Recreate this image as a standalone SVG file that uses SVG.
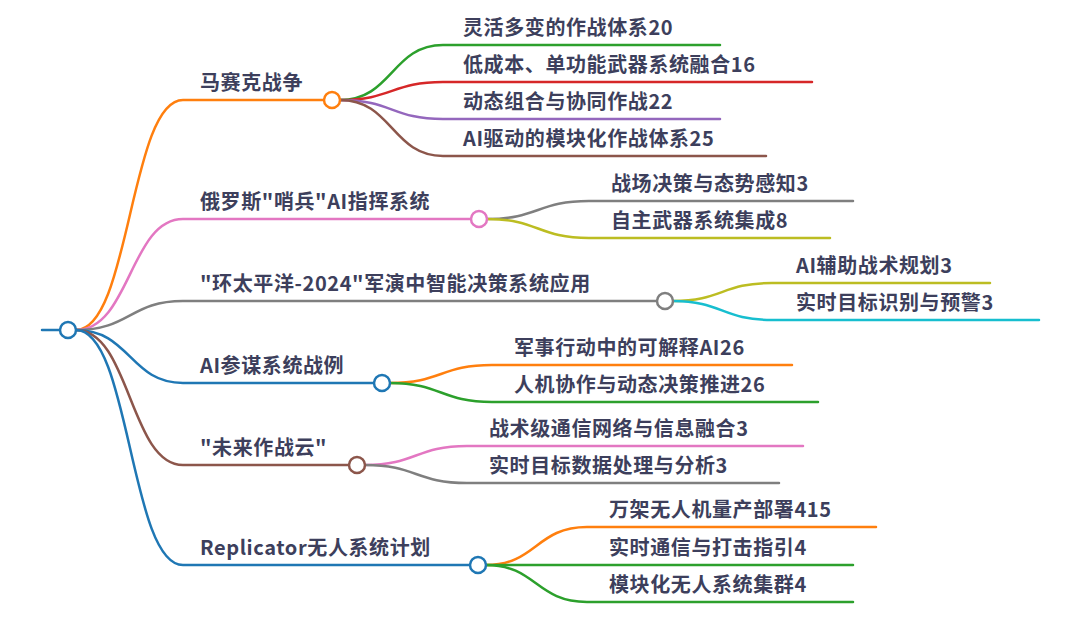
<svg xmlns="http://www.w3.org/2000/svg" width="1080" height="618" viewBox="0 0 1080 618">
<style>
text{font-family:"Noto Sans CJK SC","Noto Sans",sans-serif;font-weight:bold;font-size:20px;fill:#3d3f5c;letter-spacing:0.6px}
path,line{fill:none;stroke-width:2.5;stroke-linecap:round}
circle{fill:#fff;stroke-width:2.5}
.o{stroke:#ff7f0e}.g{stroke:#2ca02c}.r{stroke:#d62728}.p{stroke:#9467bd}.b{stroke:#8c564b}.k{stroke:#e377c2}.y{stroke:#7f7f7f}.v{stroke:#bcbd22}.c{stroke:#17becf}.u{stroke:#1f77b4}
</style>
<rect width="1080" height="618" fill="#fff"/>
<g id="connectors">
<line class="u" x1="42" y1="330" x2="60" y2="330"/>
<path class="o" d="M76,330 C130,330 130,100 183,100 H324"/>
<path class="k" d="M76,330 C130,330 130,219 183,219 H471"/>
<path class="y" d="M76,330 C130,330 130,301 183,301 H657"/>
<path class="u" d="M76,330 C130,330 130,383 183,383 H374"/>
<path class="b" d="M76,330 C130,330 130,465 183,465 H349"/>
<path class="u" d="M76,330 C130,330 130,565 183,565 H470"/>
<path class="g" d="M340,100 C392,100 392,45 443,45 H720"/>
<path class="r" d="M340,100 C392,100 392,82 443,82 H812"/>
<path class="p" d="M340,100 C392,100 392,119 443,119 H720"/>
<path class="b" d="M340,100 C392,100 392,156 443,156 H766"/>
<path class="y" d="M487,219 C538,219 538,201 589,201 H853"/>
<path class="v" d="M487,219 C538,219 538,238 589,238 H830"/>
<path class="v" d="M673,301 C722,301 722,283 772,283 H990"/>
<path class="c" d="M673,301 C722,301 722,320 772,320 H1039"/>
<path class="o" d="M390,383 C441,383 441,365 492,365 H792"/>
<path class="g" d="M390,383 C441,383 441,402 492,402 H818"/>
<path class="k" d="M365,465 C416,465 416,446 467,446 H803"/>
<path class="y" d="M365,465 C416,465 416,483 467,483 H779"/>
<path class="o" d="M486,565 C536,565 536,527 587,527 H876"/>
<path class="g" d="M486,565 C536,565 536,565 587,565 H853"/>
<path class="g" d="M486,565 C536,565 536,602 587,602 H853"/>
</g>
<g id="root"><circle class="u" cx="68" cy="330" r="8"/></g>
<g id="n1"><text x="200" y="90">马赛克战争</text><circle class="o" cx="332" cy="100" r="8"/></g>
<g id="n2"><text x="200" y="209">俄罗斯"哨兵"AI指挥系统</text><circle class="k" cx="479" cy="219" r="8"/></g>
<g id="n3"><text x="200" y="291">"环太平洋-2024"军演中智能决策系统应用</text><circle class="y" cx="665" cy="301" r="8"/></g>
<g id="n4"><text x="200" y="373">AI参谋系统战例</text><circle class="u" cx="382" cy="383" r="8"/></g>
<g id="n5"><text x="200" y="455">"未来作战云"</text><circle class="b" cx="357" cy="465" r="8"/></g>
<g id="n6"><text x="200" y="555">Replicator无人系统计划</text><circle class="u" cx="478" cy="565" r="8"/></g>
<g id="n1a"><text x="463" y="35">灵活多变的作战体系20</text></g>
<g id="n1b"><text x="463" y="72">低成本、单功能武器系统融合16</text></g>
<g id="n1c"><text x="463" y="109">动态组合与协同作战22</text></g>
<g id="n1d"><text x="463" y="146">AI驱动的模块化作战体系25</text></g>
<g id="n2a"><text x="611" y="191">战场决策与态势感知3</text></g>
<g id="n2b"><text x="611" y="228">自主武器系统集成8</text></g>
<g id="n3a"><text x="796" y="273">AI辅助战术规划3</text></g>
<g id="n3b"><text x="796" y="310">实时目标识别与预警3</text></g>
<g id="n4a"><text x="514" y="355">军事行动中的可解释AI26</text></g>
<g id="n4b"><text x="514" y="392">人机协作与动态决策推进26</text></g>
<g id="n5a"><text x="489" y="436">战术级通信网络与信息融合3</text></g>
<g id="n5b"><text x="489" y="473">实时目标数据处理与分析3</text></g>
<g id="n6a"><text x="609" y="517">万架无人机量产部署415</text></g>
<g id="n6b"><text x="609" y="555">实时通信与打击指引4</text></g>
<g id="n6c"><text x="609" y="592">模块化无人系统集群4</text></g>
</svg>
